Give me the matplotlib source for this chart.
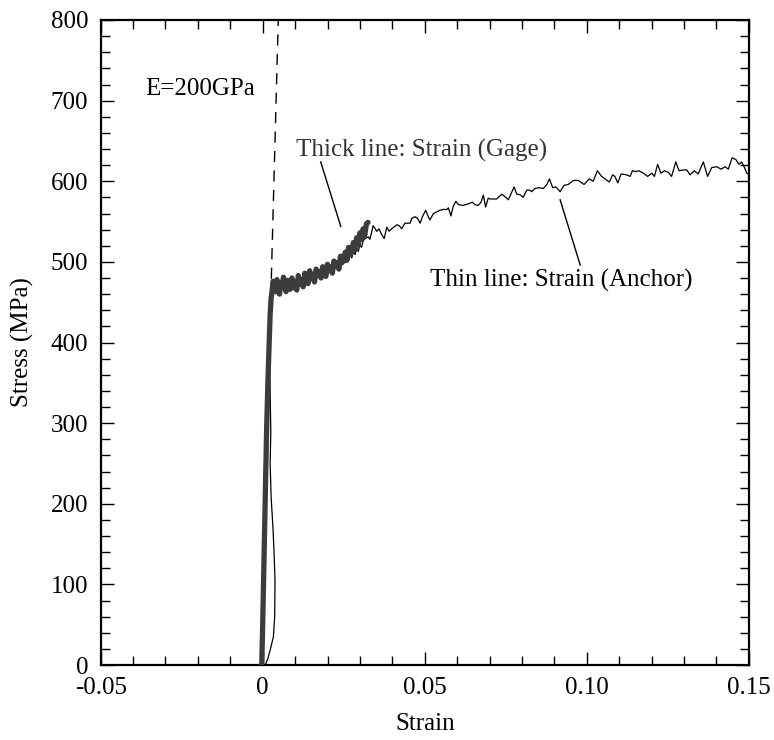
import matplotlib
matplotlib.use("Agg")
import matplotlib.pyplot as plt
from matplotlib.ticker import MultipleLocator, FixedLocator, FixedFormatter

plt.rcParams['font.family'] = ['Liberation Serif', 'DejaVu Serif']

# ---- data ----
x_ticks = [-0.05, 0.0, 0.05, 0.10, 0.15]
x_tick_labels = ["-0.05", "0", "0.05", "0.10", "0.15"]
y_ticks = [0, 100, 200, 300, 400, 500, 600, 700, 800]

# Thick line: Strain (Gage)
gage_strain = [-0.0003, 0.0000, 0.0003, 0.0006, 0.0009, 0.0012, 0.0016, 0.0020, 0.0023, 0.0026,
               0.0028, 0.0032, 0.0036, 0.0040, 0.0044, 0.0048, 0.0052, 0.0056, 0.0060, 0.0064,
               0.0068, 0.0072, 0.0076, 0.0080, 0.0085, 0.0090, 0.0095, 0.0100, 0.0105, 0.0110,
               0.0115, 0.0120, 0.0125, 0.0130, 0.0135, 0.0140, 0.0145, 0.0150, 0.0155, 0.0160,
               0.0165, 0.0170, 0.0175, 0.0180, 0.0185, 0.0190, 0.0195, 0.0200, 0.0205, 0.0210,
               0.0215, 0.0220, 0.0225, 0.0230, 0.0235, 0.0240, 0.0245, 0.0250, 0.0255, 0.0260,
               0.0265, 0.0270, 0.0275, 0.0280, 0.0285, 0.0290, 0.0295, 0.0300, 0.0305, 0.0310,
               0.0315, 0.0320, 0.0325]
gage_stress = [0, 50, 110, 170, 230, 290, 350, 400, 435, 455,
               461, 476, 472, 463, 478, 466, 460, 474, 469, 481,
               470, 463, 477, 471, 466, 480, 468, 474, 465, 483,
               472, 478, 469, 486, 477, 473, 489, 479, 484, 475,
               491, 483, 488, 480, 494, 486, 482, 497, 489, 494,
               486, 501, 495, 499, 491, 507, 499, 504, 512, 502,
               518, 509, 514, 524, 515, 530, 521, 536, 528, 541,
               533, 547, 549]

# Thin line: Strain (Anchor)
anchor_strain = [0.0008, 0.0016, 0.0024, 0.0033, 0.0037, 0.0038, 0.0035, 0.0032, 0.0026, 0.0023,
                 0.0025, 0.0024, 0.0022, 0.0022, 0.0024, 0.0027, 0.0030, 0.0034, 0.0038, 0.0042,
                 0.0046, 0.0050, 0.0055, 0.0060, 0.0065, 0.0070, 0.0075, 0.0080, 0.0085, 0.0090,
                 0.0095, 0.0100, 0.0105, 0.0110, 0.0115, 0.0120, 0.0125, 0.0130, 0.0135, 0.0140,
                 0.0145, 0.0150, 0.0155, 0.0160, 0.0165, 0.0170, 0.0175, 0.0180, 0.0185, 0.0190,
                 0.0195, 0.0200, 0.0205, 0.0210, 0.0215, 0.0220, 0.0225, 0.0230, 0.0235, 0.0240,
                 0.0245, 0.0250, 0.0255, 0.0260, 0.0265, 0.0270, 0.0275, 0.0280, 0.0285, 0.0290,
                 0.0295, 0.0300, 0.0305, 0.0310,
                 0.0316, 0.0326, 0.0331, 0.0341, 0.0352, 0.0359, 0.0367, 0.0375, 0.0383, 0.0390,
                 0.0398, 0.0414, 0.0421, 0.0429, 0.0439, 0.0455, 0.0460, 0.0470, 0.0478, 0.0486,
                 0.0493, 0.0503, 0.0511, 0.0516, 0.0527, 0.0537, 0.0547, 0.0557, 0.0568, 0.0573,
                 0.0581, 0.0588, 0.0596, 0.0604, 0.0619, 0.0635, 0.0647, 0.0655, 0.0665, 0.0674,
                 0.0681, 0.0688, 0.0696,
                 0.0702, 0.0722, 0.0738, 0.0753, 0.0758, 0.0776, 0.0784, 0.0796, 0.0804, 0.0815,
                 0.0825, 0.0830, 0.0840, 0.0854, 0.0866, 0.0877, 0.0885, 0.0895, 0.0905, 0.0918,
                 0.0930, 0.0943, 0.0959, 0.0974, 0.0992, 0.1008, 0.1020, 0.1033, 0.1046, 0.1060,
                 0.1070, 0.1080,
                 0.1087, 0.1096, 0.1106, 0.1123, 0.1134, 0.1141, 0.1151, 0.1161, 0.1175, 0.1188,
                 0.1201, 0.1209, 0.1219, 0.1229, 0.1240, 0.1252, 0.1262, 0.1275, 0.1285, 0.1298,
                 0.1309, 0.1319, 0.1332, 0.1344, 0.1360, 0.1373, 0.1386, 0.1401, 0.1415, 0.1427,
                 0.1437, 0.1449, 0.1460, 0.1470, 0.1478, 0.1487, 0.1494, 0.1499]
anchor_stress = [0, 8, 20, 35, 60, 105, 140, 168, 208, 250,
                 290, 316, 360, 400, 440, 455, 462, 468, 472, 464,
                 470, 466, 473, 467, 471, 466, 474, 470, 466, 475,
                 471, 478, 472, 480, 474, 479, 476, 483, 478, 484,
                 480, 487, 482, 488, 484, 490, 485, 489, 486, 491,
                 487, 493, 489, 495, 491, 497, 493, 499, 495, 501,
                 497, 503, 499, 506, 502, 510, 505, 513, 509, 517,
                 513, 521, 518, 526,
                 529, 531, 528, 545, 538, 541, 534, 529, 543, 538,
                 541, 546, 545, 541, 548, 548, 554, 556, 554, 548,
                 556, 564, 556, 552, 560, 562, 564, 565, 565, 567,
                 557, 569, 575, 571, 570, 572, 574, 571, 570, 574,
                 583, 568, 579,
                 578, 578, 584, 579, 577, 593, 584, 583, 580, 589,
                 589, 587, 591, 592, 591, 596, 603, 592, 593, 587,
                 595, 596, 601, 601, 596, 603, 600, 613, 606, 602,
                 599, 608,
                 606, 598, 609, 608, 606, 613, 612, 613, 610, 606,
                 610, 606, 621, 610, 613, 611, 606, 624, 613, 614,
                 614, 608, 613, 609, 624, 606, 617, 618, 615, 618,
                 615, 629, 627, 621, 624, 617, 610, 609]

# Elastic reference line E = 200 GPa
elastic_strain = [0.0025, 0.0048]
elastic_stress = [455, 800]

# ---- figure ----
fig = plt.figure(figsize=(7.74, 7.40), dpi=100)
ax = fig.add_axes([100.7 / 774, 75 / 740, 648 / 774, 645 / 740])

ax.plot(elastic_strain, elastic_stress, color='black', lw=1.0, ls=(0, (8, 6)), zorder=1)
ax.plot(anchor_strain, anchor_stress, color='black', lw=0.9, zorder=2)
ax.plot(gage_strain, gage_stress, color='#3c3c3c', lw=3.8, solid_joinstyle='round',
        solid_capstyle='round', zorder=3)

ax.set_xlim(-0.05, 0.15)
ax.set_ylim(0, 800)

ax.xaxis.set_major_locator(FixedLocator(x_ticks))
ax.xaxis.set_major_formatter(FixedFormatter(x_tick_labels))
ax.xaxis.set_minor_locator(MultipleLocator(0.01))
ax.yaxis.set_major_locator(FixedLocator(y_ticks))
ax.yaxis.set_minor_locator(MultipleLocator(20))

ax.tick_params(which='both', direction='in', top=True, right=True, width=1.0, labelsize=18)
ax.tick_params(which='major', length=9.5, pad=9)
ax.tick_params(which='minor', length=6.5)
for s in ax.spines.values():
    s.set_linewidth(1.6)

ax.set_xlabel('Strain', fontsize=18, labelpad=10)
ax.set_ylabel('Stress (MPa)', fontsize=18, labelpad=12)

ax.text(-0.0363, 707, 'E=200GPa', fontsize=18, ha='left', va='baseline')
ax.text(0.0103, 631, 'Thick line: Strain (Gage)', fontsize=18, ha='left', va='baseline', color='#333333')
ax.text(0.0516, 469, 'Thin line: Strain (Anchor)', fontsize=18, ha='left', va='baseline')

ax.plot([0.0179, 0.0241], [624, 544], color='black', lw=1.0)
ax.plot([0.0918, 0.0980], [577, 496], color='black', lw=1.0)

fig.savefig('out.png', dpi=100)
